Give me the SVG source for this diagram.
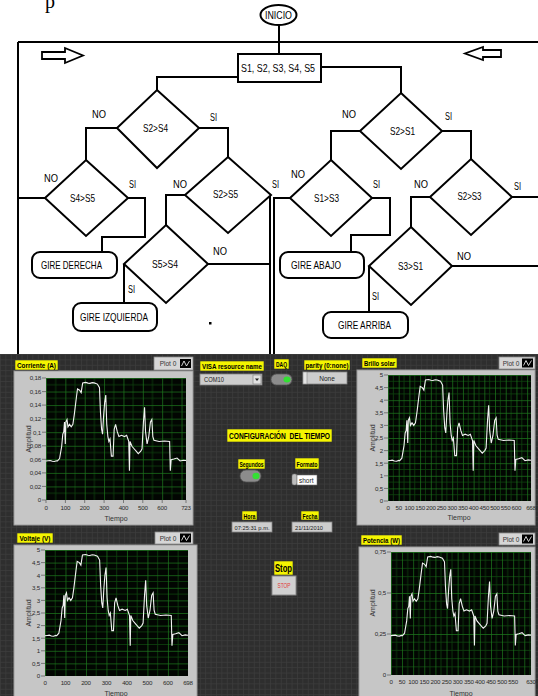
<svg xmlns="http://www.w3.org/2000/svg" xmlns:xlink="http://www.w3.org/1999/xlink" width="538" height="696" viewBox="0 0 538 696">
<style>
.ln{fill:none;stroke:#000;stroke-width:2}
.nd{fill:#fff;stroke:#000;stroke-width:2}
.ft{font-family:"Liberation Sans",Arial,sans-serif;font-size:10.5px;fill:#000;text-anchor:middle}
.lb{font-family:"Liberation Sans",Arial,sans-serif;font-size:10px;fill:#000}
.yl{fill:#f5f500;stroke:#333;stroke-width:0.6}
.yt{font-family:"Liberation Sans",Arial,sans-serif;font-size:8px;font-weight:bold;fill:#000;text-anchor:middle}
.fr{fill:#c6c6c6;stroke:#9c9c9c;stroke-width:1}
.tk{font-family:"Liberation Sans",Arial,sans-serif;font-size:6.2px;fill:#2a2a2a;letter-spacing:-0.2px}
.ty{text-anchor:end}
.tx{text-anchor:middle}
.ax{font-family:"Liberation Sans",Arial,sans-serif;font-size:7px;fill:#333;text-anchor:middle}
.lg{fill:#d6d6d6;stroke:#8c8c8c;stroke-width:0.8}
.lgt{font-family:"Liberation Sans",Arial,sans-serif;font-size:6.5px;fill:#333;text-anchor:middle}
.wv{fill:none;stroke:#f2f2f2;stroke-width:1.1}
.ctl{fill:#cdcdcd;stroke:#858585;stroke-width:0.8}
.ct{font-family:"Liberation Sans",Arial,sans-serif;font-size:6.5px;fill:#222;text-anchor:middle}
</style>
<defs>
<pattern id="bg" patternUnits="userSpaceOnUse" x="0" y="354" width="5.4" height="5.4">
<rect width="5.4" height="5.4" fill="#2e2e2e"/>
<path d="M0.4,0V5.4M0,0.4H5.4" stroke="#3c3c3c" stroke-width="0.8"/>
</pattern>
<pattern id="gC" patternUnits="userSpaceOnUse" x="46" y="500" width="19.364" height="13.556">
<rect width="19.364" height="13.556" fill="#020602"/>
<path d="M9.68,0V13.556M0,6.78H19.364" stroke="#0d420d" stroke-width="0.8"/>
<path d="M0.4,0V13.556M0,0.4H19.364" stroke="#1c751c" stroke-width="0.8"/>
</pattern>
<pattern id="gB" patternUnits="userSpaceOnUse" x="388" y="501" width="10.704" height="12.6">
<rect width="10.704" height="12.6" fill="#020602"/>
<path d="M5.35,0V12.6M0,6.3H10.704" stroke="#0d420d" stroke-width="0.8"/>
<path d="M0.4,0V12.6M0,0.4H10.704" stroke="#1c751c" stroke-width="0.8"/>
</pattern>
<pattern id="gV" patternUnits="userSpaceOnUse" x="45" y="676" width="20.487" height="12.6">
<rect width="20.487" height="12.6" fill="#020602"/>
<path d="M10.24,0V12.6M0,6.3H20.487" stroke="#0d420d" stroke-width="0.8"/>
<path d="M0.4,0V12.6M0,0.4H20.487" stroke="#1c751c" stroke-width="0.8"/>
</pattern>
<pattern id="gP" patternUnits="userSpaceOnUse" x="391" y="675" width="11.111" height="41">
<rect width="11.111" height="41" fill="#020602"/>
<path d="M5.55,0V41M0,8.2H11.111M0,16.4H11.111M0,24.6H11.111M0,32.8H11.111" stroke="#0d420d" stroke-width="0.8"/>
<path d="M0.4,0V41M0,0.4H11.111" stroke="#1c751c" stroke-width="0.8"/>
</pattern>
<path id="wave" vector-effect="non-scaling-stroke" d="M0,320 L15,322 L30,324 L45,318 L60,316 L75,322 L82,320 L97,340 L112,440 L120,540 L127,560 L132,640 L138,460 L142,640 L150,660 L157,600 L168,620 L180,600 L192,620 L202,700 L217,840 L225,910 L240,900 L251,880 L262,960 L284,964 L300,958 L314,956 L330,962 L344,960 L367,950 L382,920 L389,720 L397,580 L404,540 L412,700 L419,800 L427,860 L434,620 L442,520 L449,480 L457,500 L467,360 L479,360 L487,580 L497,620 L509,560 L521,520 L539,530 L561,520 L576,530 L591,480 L596,240 L600,480 L614,440 L629,420 L644,400 L659,380 L677,400 L686,420 L696,640 L704,760 L711,560 L722,460 L734,520 L746,640 L756,660 L763,520 L771,490 L808,480 L846,484 L883,480 L888,240 L894,330 L913,336 L936,344 L958,320 L980,326 L1000,324"/>
</defs>

<rect x="0" y="0" width="538" height="696" fill="#fff"/>
<text x="45" y="8" style="font-family:'Liberation Serif','Times New Roman',serif;font-size:20px;fill:#000">p</text>

<g id="connectors">
<path class="ln" d="M18,42H538M18,42V355"/>
<path class="ln" d="M279,25V54"/>
<path class="ln" d="M238,77H157V90"/>
<path class="ln" d="M321,67H401V93"/>
<path class="ln" d="M117,128H86V160"/>
<path class="ln" d="M199,128H228V157"/>
<path class="ln" d="M45,198H18"/>
<path class="ln" d="M128,198H145V237H102V252"/>
<path class="ln" d="M185,195H166V225"/>
<path class="ln" d="M271,195H270V355"/>
<path class="ln" d="M208,264H270"/>
<path class="ln" d="M124,264V303"/>
<path class="ln" d="M360,131H331V160"/>
<path class="ln" d="M442,131H471V159"/>
<path class="ln" d="M290,198H274V355"/>
<path class="ln" d="M372,198H390V235H351V252"/>
<path class="ln" d="M430,197H411V227"/>
<path class="ln" d="M512,197H538"/>
<path class="ln" d="M452,266H538"/>
<path class="ln" d="M369,266V312"/>
<path fill="#fff" stroke="#000" stroke-width="1.8" d="M42,52H65V48L83,55.5L65,63V59H42Z"/>
<path fill="#fff" stroke="#000" stroke-width="1.8" d="M501,50H483V47L465,53.5L483,60V57H501Z"/>
</g>

<g id="n-inicio">
<ellipse class="nd" cx="278.5" cy="15" rx="18" ry="10"/>
<text class="ft" x="278.5" y="19" textLength="27" lengthAdjust="spacingAndGlyphs">INICIO</text>
</g>
<g id="n-sensores">
<rect class="nd" x="238" y="54" width="83" height="28"/>
<text class="ft" x="278" y="72" textLength="74" lengthAdjust="spacingAndGlyphs">S1, S2, S3, S4, S5</text>
</g>
<g id="n-s2s4">
<path class="nd" d="M157,90L199,128L157,168L117,128Z"/>
<text class="ft" x="155.5" y="132" textLength="25" lengthAdjust="spacingAndGlyphs">S2&gt;S4</text>
<text class="lb" x="92" y="118" textLength="14" lengthAdjust="spacingAndGlyphs">NO</text>
<text class="lb" x="210" y="121" textLength="7" lengthAdjust="spacingAndGlyphs">SI</text>
</g>
<g id="n-s2s1">
<path class="nd" d="M401,93L442,131L401,169L360,131Z"/>
<text class="ft" x="402.5" y="135" textLength="25" lengthAdjust="spacingAndGlyphs">S2&gt;S1</text>
<text class="lb" x="342" y="118" textLength="14" lengthAdjust="spacingAndGlyphs">NO</text>
<text class="lb" x="445" y="120" textLength="7" lengthAdjust="spacingAndGlyphs">SI</text>
</g>
<g id="n-s4s5">
<path class="nd" d="M86,160L128,198L86,236L45,198Z"/>
<text class="ft" x="82.5" y="202" textLength="25" lengthAdjust="spacingAndGlyphs">S4&gt;S5</text>
<text class="lb" x="44" y="182" textLength="14" lengthAdjust="spacingAndGlyphs">NO</text>
<text class="lb" x="129" y="188" textLength="7" lengthAdjust="spacingAndGlyphs">SI</text>
</g>
<g id="n-s2s5">
<path class="nd" d="M228,157L271,195L228,233L185,195Z"/>
<text class="ft" x="225.5" y="198" textLength="25" lengthAdjust="spacingAndGlyphs">S2&gt;S5</text>
<text class="lb" x="173" y="188" textLength="14" lengthAdjust="spacingAndGlyphs">NO</text>
<text class="lb" x="272" y="188" textLength="7" lengthAdjust="spacingAndGlyphs">SI</text>
</g>
<g id="n-s5s4">
<path class="nd" d="M166,225L208,264L166,303L124,264Z"/>
<text class="ft" x="165" y="268" textLength="26" lengthAdjust="spacingAndGlyphs">S5&gt;S4</text>
<text class="lb" x="213" y="255" textLength="14" lengthAdjust="spacingAndGlyphs">NO</text>
<text class="lb" x="128" y="293" textLength="7" lengthAdjust="spacingAndGlyphs">SI</text>
</g>
<g id="n-s1s3">
<path class="nd" d="M331,160L372,198L331,236L290,198Z"/>
<text class="ft" x="326.5" y="202" textLength="25" lengthAdjust="spacingAndGlyphs">S1&gt;S3</text>
<text class="lb" x="291" y="178" textLength="14" lengthAdjust="spacingAndGlyphs">NO</text>
<text class="lb" x="373" y="188" textLength="7" lengthAdjust="spacingAndGlyphs">SI</text>
</g>
<g id="n-s2s3">
<path class="nd" d="M471,159L512,197L471,235L430,197Z"/>
<text class="ft" x="469.5" y="200" textLength="24" lengthAdjust="spacingAndGlyphs">S2&gt;S3</text>
<text class="lb" x="414" y="188" textLength="14" lengthAdjust="spacingAndGlyphs">NO</text>
<text class="lb" x="514" y="190" textLength="7" lengthAdjust="spacingAndGlyphs">SI</text>
</g>
<g id="n-s3s1">
<path class="nd" d="M411,227L452,266L411,305L369,266Z"/>
<text class="ft" x="410.5" y="270" textLength="25" lengthAdjust="spacingAndGlyphs">S3&gt;S1</text>
<text class="lb" x="457" y="260" textLength="14" lengthAdjust="spacingAndGlyphs">NO</text>
<text class="lb" x="372" y="300" textLength="7" lengthAdjust="spacingAndGlyphs">SI</text>
</g>
<g id="n-derecha">
<rect class="nd" x="32" y="252" width="85" height="26" rx="8"/>
<text class="ft" x="71.5" y="269" textLength="61" lengthAdjust="spacingAndGlyphs">GIRE DERECHA</text>
</g>
<g id="n-izquierda">
<rect class="nd" x="73" y="303" width="84" height="28" rx="8"/>
<text class="ft" x="114" y="321" textLength="68" lengthAdjust="spacingAndGlyphs">GIRE IZQUIERDA</text>
</g>
<g id="n-abajo">
<rect class="nd" x="280" y="252" width="84" height="26" rx="8"/>
<text class="ft" x="316" y="269" textLength="50" lengthAdjust="spacingAndGlyphs">GIRE ABAJO</text>
</g>
<g id="n-arriba">
<rect class="nd" x="323" y="312" width="85" height="26" rx="8"/>
<text class="ft" x="364.5" y="329" textLength="53" lengthAdjust="spacingAndGlyphs">GIRE ARRIBA</text>
</g>
<rect x="209" y="322" width="2.5" height="2.5" fill="#000"/>

<!-- front panel -->
<rect x="0" y="354" width="538" height="342" fill="url(#bg)"/>

<g id="g-corriente">
<rect class="fr" x="14" y="371" width="179" height="154"/>
<rect class="yl" x="15" y="360" width="43" height="10"/>
<text class="yt" x="36.5" y="368" textLength="39" lengthAdjust="spacingAndGlyphs">Corriente (A)</text>
<rect class="lg" x="154" y="357" width="39" height="13"/>
<text class="lgt" x="168" y="366">Plot 0</text>
<rect x="180" y="359" width="11" height="9" fill="#000"/>
<polyline points="181.5,366 184,361 186.5,366 189.5,361" fill="none" stroke="#fff" stroke-width="0.8"/>
<rect x="46" y="378" width="140" height="122" fill="url(#gC)"/>
<use xlink:href="#wave" class="wv" transform="translate(46,500) scale(0.14,-0.122)"/>
<g class="tk ty">
<text x="41" y="380.3">0,18</text><text x="41" y="393.9">0,16</text><text x="41" y="407.4">0,14</text><text x="41" y="421">0,12</text><text x="41" y="434.5">0,1</text><text x="41" y="448.1">0,08</text><text x="41" y="461.6">0,06</text><text x="41" y="475.2">0,04</text><text x="41" y="488.7">0,02</text><text x="41" y="502.3">0</text>
</g>
<path d="M42,378H46M42,391.6H46M42,405.1H46M42,418.7H46M42,432.2H46M42,445.8H46M42,459.3H46M42,472.9H46M42,486.4H46M42,500H46M46,500V503M65.4,500V503M84.7,500V503M104.1,500V503M123.5,500V503M142.8,500V503M162.2,500V503M186,500V503" stroke="#555" stroke-width="0.7"/>
<g class="tk tx">
<text x="46" y="509.5">0</text><text x="65.4" y="509.5">100</text><text x="84.7" y="509.5">200</text><text x="104.1" y="509.5">300</text><text x="123.5" y="509.5">400</text><text x="142.8" y="509.5">500</text><text x="162.2" y="509.5">600</text><text x="186" y="509.5">723</text>
</g>
<text class="ax" x="116" y="521">Tiempo</text>
<text class="ax" transform="translate(31,439) rotate(-90)">Amplitud</text>
</g>

<g id="g-brillo">
<rect class="fr" x="357" y="370" width="178" height="155"/>
<rect class="yl" x="362" y="358" width="35" height="10"/>
<text class="yt" x="379.5" y="366" textLength="31" lengthAdjust="spacingAndGlyphs">Brillo solar</text>
<rect class="lg" x="499" y="357" width="36" height="12"/>
<text class="lgt" x="511" y="365.5">Plot 0</text>
<rect x="522" y="358.5" width="11" height="9" fill="#000"/>
<polyline points="523.5,365.5 526,360.5 528.5,365.5 531.5,360.5" fill="none" stroke="#fff" stroke-width="0.8"/>
<rect x="388" y="375" width="143" height="126" fill="url(#gB)"/>
<use xlink:href="#wave" class="wv" transform="translate(388,501) scale(0.143,-0.126)"/>
<g class="tk ty">
<text x="383" y="377.3">5</text><text x="383" y="389.9">4,5</text><text x="383" y="402.5">4</text><text x="383" y="415.1">3,5</text><text x="383" y="427.7">3</text><text x="383" y="440.3">2,5</text><text x="383" y="452.9">2</text><text x="383" y="465.5">1,5</text><text x="383" y="478.1">1</text><text x="383" y="490.7">0,5</text><text x="383" y="503.3">0</text>
</g>
<path d="M384,375H388M384,387.6H388M384,400.2H388M384,412.8H388M384,425.4H388M384,438H388M384,450.6H388M384,463.2H388M384,475.8H388M384,488.4H388M384,501H388" stroke="#555" stroke-width="0.7"/>
<g class="tk tx">
<text x="388" y="510">0</text><text x="398.7" y="510">50</text><text x="409.4" y="510">100</text><text x="420.1" y="510">150</text><text x="430.8" y="510">200</text><text x="441.5" y="510">250</text><text x="452.2" y="510">300</text><text x="462.9" y="510">350</text><text x="473.6" y="510">400</text><text x="484.3" y="510">450</text><text x="495" y="510">500</text><text x="505.7" y="510">550</text><text x="516.4" y="510">600</text><text x="531" y="510">668</text>
</g>
<text class="ax" x="459" y="520">Tiempo</text>
<text class="ax" transform="translate(375,438) rotate(-90)">Amplitud</text>
</g>

<g id="g-voltaje">
<rect class="fr" x="14" y="545" width="183" height="152"/>
<rect class="yl" x="17" y="533" width="36" height="10"/>
<text class="yt" x="35" y="541" textLength="31" lengthAdjust="spacingAndGlyphs">Voltaje (V)</text>
<rect class="lg" x="155" y="532" width="38" height="12"/>
<text class="lgt" x="168" y="540.5">Plot 0</text>
<rect x="180" y="533.5" width="11" height="9" fill="#000"/>
<polyline points="181.5,540.5 184,535.5 186.5,540.5 189.5,535.5" fill="none" stroke="#fff" stroke-width="0.8"/>
<rect x="45" y="550" width="143" height="126" fill="url(#gV)"/>
<use xlink:href="#wave" class="wv" transform="translate(45,676) scale(0.143,-0.126)"/>
<g class="tk ty">
<text x="40" y="552.3">5</text><text x="40" y="564.9">4,5</text><text x="40" y="577.5">4</text><text x="40" y="590.1">3,5</text><text x="40" y="602.7">3</text><text x="40" y="615.3">2,5</text><text x="40" y="627.9">2</text><text x="40" y="640.5">1,5</text><text x="40" y="653.1">1</text><text x="40" y="665.7">0,5</text><text x="40" y="678.3">0</text>
</g>
<path d="M41,550H45M41,562.6H45M41,575.2H45M41,587.8H45M41,600.4H45M41,613H45M41,625.6H45M41,638.2H45M41,650.8H45M41,663.4H45M41,676H45" stroke="#555" stroke-width="0.7"/>
<g class="tk tx">
<text x="45" y="685">0</text><text x="65.5" y="685">100</text><text x="86" y="685">200</text><text x="106.5" y="685">300</text><text x="127" y="685">400</text><text x="147.4" y="685">500</text><text x="167.9" y="685">600</text><text x="188" y="685">698</text>
</g>
<text class="ax" x="116" y="696">Tiempo</text>
<text class="ax" transform="translate(31,613) rotate(-90)">Amplitud</text>
</g>

<g id="g-potencia">
<rect class="fr" x="359" y="547" width="176" height="150"/>
<rect class="yl" x="361" y="535" width="41" height="10"/>
<text class="yt" x="381.5" y="543" textLength="37" lengthAdjust="spacingAndGlyphs">Potencia (W)</text>
<rect class="lg" x="499" y="533" width="36" height="12"/>
<text class="lgt" x="511" y="541.5">Plot 0</text>
<rect x="522" y="534.5" width="11" height="9" fill="#000"/>
<polyline points="523.5,541.5 526,536.5 528.5,541.5 531.5,536.5" fill="none" stroke="#fff" stroke-width="0.8"/>
<rect x="391" y="552" width="140" height="123" fill="url(#gP)"/>
<use xlink:href="#wave" class="wv" transform="translate(391,675) scale(0.14,-0.123)"/>
<g class="tk ty">
<text x="386" y="554.3">0,75</text><text x="386" y="595.3">0,5</text><text x="386" y="636.3">0,25</text><text x="386" y="677.3">0</text>
</g>
<path d="M387,552H391M387,593H391M387,634H391M387,675H391" stroke="#555" stroke-width="0.7"/>
<g class="tk tx">
<text x="391" y="684">0</text><text x="402.1" y="684">50</text><text x="413.2" y="684">100</text><text x="424.3" y="684">150</text><text x="435.4" y="684">200</text><text x="446.6" y="684">250</text><text x="457.7" y="684">300</text><text x="468.8" y="684">350</text><text x="479.9" y="684">400</text><text x="491" y="684">450</text><text x="502.1" y="684">500</text><text x="513.2" y="684">550</text><text x="531" y="684">630</text>
</g>
<text class="ax" x="461" y="696">Tiempo</text>
<text class="ax" transform="translate(375,603) rotate(-90)">Amplitud</text>
</g>

<g id="c-visa">
<rect class="yl" x="200" y="361" width="64" height="10"/>
<text class="yt" x="232" y="369" textLength="60" lengthAdjust="spacingAndGlyphs">VISA resource name</text>
<rect class="ctl" x="200" y="374" width="62" height="11"/>
<text class="ct" x="204" y="382" style="text-anchor:start" textLength="20" lengthAdjust="spacingAndGlyphs">COM10</text>
<rect x="253" y="375" width="8" height="9" fill="#e0e0e0" stroke="#777" stroke-width="0.6"/>
<path d="M255,378.5H259L257,381Z" fill="#222"/>
</g>
<g id="c-daq">
<rect class="yl" x="274" y="359" width="15" height="10"/>
<text class="yt" x="281.5" y="367" textLength="11" lengthAdjust="spacingAndGlyphs">DAQ</text>
<rect x="271" y="374" width="21" height="11" rx="5.5" fill="#8c8c8c" stroke="#555" stroke-width="0.8"/>
<ellipse cx="287" cy="379.5" rx="3.5" ry="3" fill="#33e033"/>
</g>
<g id="c-parity">
<rect class="yl" x="304" y="360" width="46" height="10"/>
<text class="yt" x="327" y="368" textLength="43" lengthAdjust="spacingAndGlyphs">parity (0:none)</text>
<rect class="ctl" x="303" y="372" width="44" height="12"/>
<rect x="303" y="372" width="4" height="12" fill="#e4e4e4" stroke="#777" stroke-width="0.5"/>
<text class="ct" x="327" y="380.5">None</text>
</g>
<g id="c-config">
<rect class="yl" x="227" y="429" width="105" height="13"/>
<text class="yt" x="279.5" y="439" style="font-size:9.5px" textLength="101" lengthAdjust="spacingAndGlyphs" xml:space="preserve">CONFIGURACIÓN  DEL TIEMPO</text>
</g>
<g id="c-segundos">
<rect class="yl" x="238" y="459" width="27" height="10"/>
<text class="yt" x="251.5" y="467" textLength="24" lengthAdjust="spacingAndGlyphs">Segundos</text>
<rect x="240" y="470" width="21" height="12" rx="6" fill="#8c8c8c" stroke="#555" stroke-width="0.8"/>
<ellipse cx="256" cy="476" rx="3.5" ry="3.2" fill="#33e033"/>
</g>
<g id="c-formato">
<rect class="yl" x="295" y="458" width="24" height="11"/>
<text class="yt" x="307" y="466.5" textLength="21" lengthAdjust="spacingAndGlyphs">Formato</text>
<rect x="292" y="474" width="5" height="11" rx="2" fill="#bdbdbd" stroke="#777" stroke-width="0.5"/>
<rect x="297" y="475" width="20" height="10" fill="#fff" stroke="#777" stroke-width="0.6"/>
<text class="ct" x="299" y="482.5" style="text-anchor:start">short</text>
</g>
<g id="c-hora">
<rect class="yl" x="242" y="511" width="15" height="9"/>
<text class="yt" x="249.5" y="518.5" textLength="12" lengthAdjust="spacingAndGlyphs">Hora</text>
<rect class="ctl" x="232" y="522" width="40" height="10"/>
<text class="ct" x="252" y="529.5" style="font-size:5.5px" textLength="35" lengthAdjust="spacingAndGlyphs">07:25:31 p.m.</text>
</g>
<g id="c-fecha">
<rect class="yl" x="301" y="511" width="18" height="9"/>
<text class="yt" x="310" y="518.5" textLength="15" lengthAdjust="spacingAndGlyphs">Fecha</text>
<rect class="ctl" x="292" y="522" width="40" height="10"/>
<text class="ct" x="295" y="529.5" style="font-size:5.5px;text-anchor:start" textLength="28" lengthAdjust="spacingAndGlyphs">21/11/2010</text>
</g>
<g id="c-stop">
<rect class="yl" x="274" y="561" width="19" height="14"/>
<text class="yt" x="283.5" y="571.5" style="font-size:10px" textLength="17" lengthAdjust="spacingAndGlyphs">Stop</text>
<rect x="272" y="576" width="24" height="19" fill="#d0d0d0" stroke="#8a8a8a" stroke-width="1"/>
<text class="ct" x="284" y="588" style="fill:#e03838" textLength="13" lengthAdjust="spacingAndGlyphs">STOP</text>
</g>
</svg>
